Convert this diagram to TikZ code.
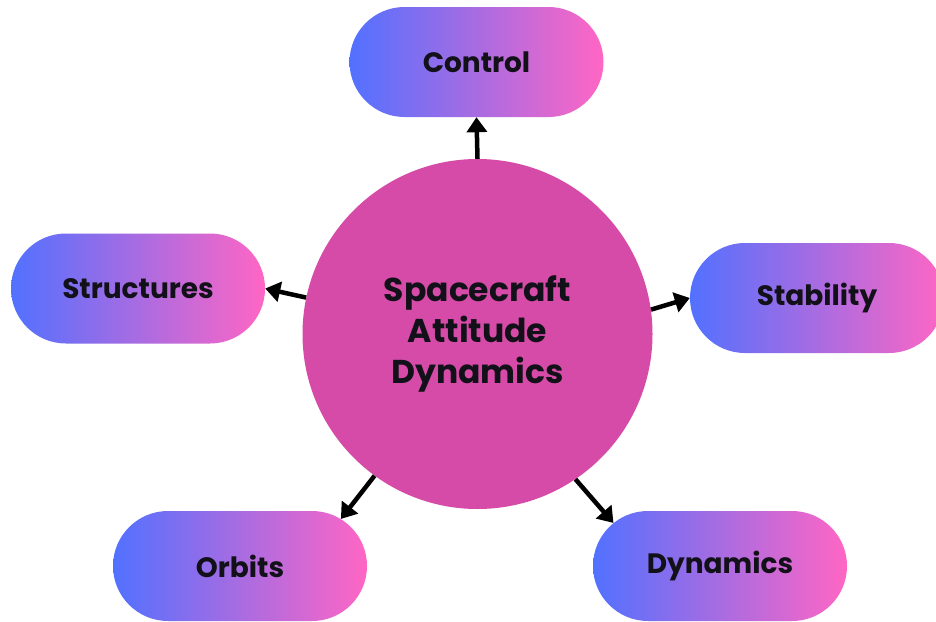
\documentclass[tikz,border=0pt]{standalone}
\usepackage{fontspec}
\setmainfont{Poppins}
\usetikzlibrary{arrows.meta,shapes.misc}
\definecolor{gblue}{HTML}{5271FF}
\definecolor{gpink}{HTML}{FF66C4}
\definecolor{hub}{HTML}{D64BA7}
\definecolor{ink}{HTML}{121018}
\begin{document}
\begin{tikzpicture}[x=1pt,y=-1pt,
  pill/.style={rounded rectangle, minimum width=254pt, minimum height=110pt,
    inner sep=0pt, left color=gblue, right color=gpink, draw=none,
    text=ink, font=\bfseries\fontsize{28}{32}\selectfont},
  hubnode/.style={circle, minimum size=350pt, inner sep=0pt, fill=hub, draw=none,
    text=ink, align=center, font=\bfseries\fontsize{33}{41}\selectfont},
  arr/.style={line width=4.5pt, draw=black, -{Triangle[length=15pt,width=20pt]}}
]
\clip (0,0) rectangle (936,621);
\fill[white] (0,0) rectangle (936,621);

\node[hubnode] (c) at (477.5,334) {Spacecraft\\Attitude\\Dynamics};

\node[pill] (ctrl) at (476.5,62) {Control};
\node[pill] (str) at (138,288.5) {Structures};
\node[pill] (stab) at (817,298) {Stability};
\node[pill] (orb) at (240,566) {Orbits};
\node[pill] (dyn) at (720,566) {Dynamics};

\draw[arr] (c.north) -- (ctrl.south);
\draw[arr] (c.168.8) -- (str.east);
\draw[arr] (c.8.5) -- (stab.west);
\draw[arr] (c.234.7) -- (orb.25);
\draw[arr] (c.304.4) -- (dyn.158.7);
\end{tikzpicture}
\end{document}
